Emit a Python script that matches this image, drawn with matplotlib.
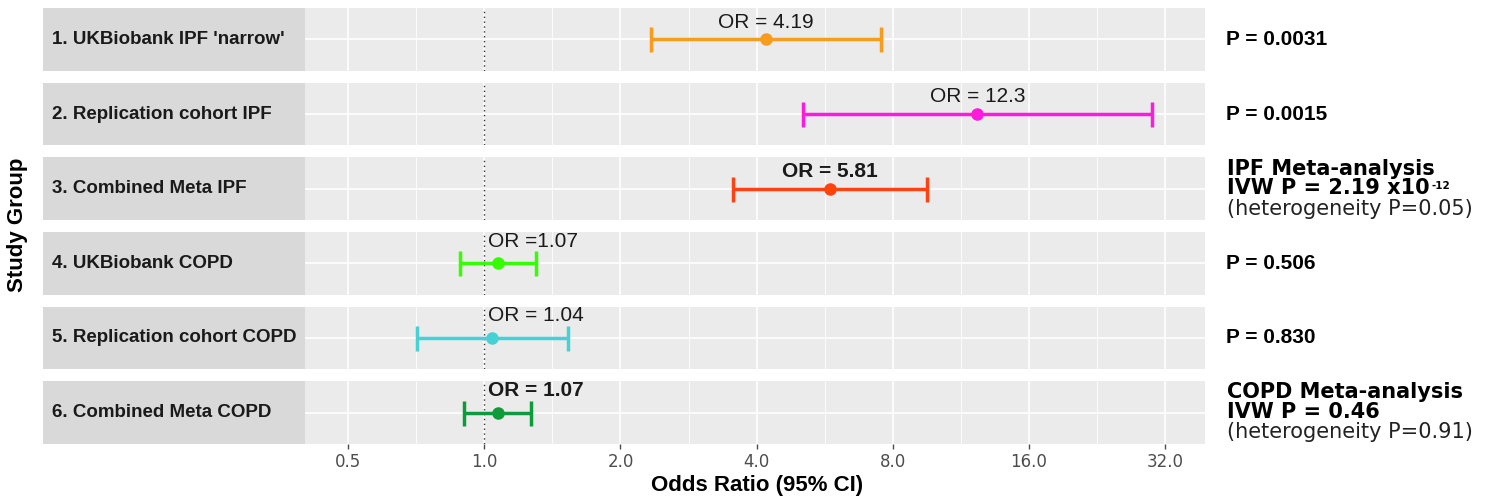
import numpy as np
import matplotlib
matplotlib.use("Agg")
import matplotlib.pyplot as plt
from matplotlib.ticker import FixedLocator, NullFormatter

# data
groups = ["1. UKBiobank IPF 'narrow'", "2. Replication cohort IPF", "3. Combined Meta IPF",
          "4. UKBiobank COPD", "5. Replication cohort COPD", "6. Combined Meta COPD"]
odds = [4.19, 12.3, 5.81, 1.07, 1.04, 1.07]
lower = [2.34, 5.07, 3.55, 0.885, 0.711, 0.903]
upper = [7.55, 30.0, 9.53, 1.30, 1.53, 1.27]
or_labels = ["OR = 4.19", "OR = 12.3", "OR = 5.81", "OR =1.07", "OR = 1.04", "OR = 1.07"]
p_labels = ["P = 0.0031", "P = 0.0015", None, "P = 0.506", "P = 0.830", None]
colors = ["#F99B1C", "#FF1AE0", "#FF4214", "#33FF00", "#45D2D2", "#0E9B3A"]
ticks = [0.5, 1, 2, 4, 8, 16, 32]
tick_labels = ["0.5", "1.0", "2.0", "4.0", "8.0", "16.0", "32.0"]

W, H = 1498, 500
fig = plt.figure(figsize=(W / 100, H / 100), dpi=100)
gs = fig.add_gridspec(6, 1, left=43 / W, right=1205 / W, top=1 - 8 / H, bottom=1 - 444 / H, hspace=0.19)

xmin, xmax, strip_end = 0.1058, 39.2, 0.4016
minor = [2 ** (k + 0.5) for k in range(-4, 6)]

axes = []
for i in range(6):
    ax = fig.add_subplot(gs[i])
    axes.append(ax)
    ax.set_facecolor("#EBEBEB")
    ax.set_xscale("log", base=2)
    ax.set_xlim(xmin, xmax)
    ax.set_ylim(-0.5, 0.5)
    ax.xaxis.set_major_locator(FixedLocator(ticks))
    ax.xaxis.set_minor_locator(FixedLocator(minor))
    ax.xaxis.set_minor_formatter(NullFormatter())
    ax.set_yticks([0])
    ax.set_axisbelow(True)
    ax.grid(True, which="major", color="white", lw=1.2)
    ax.grid(True, which="minor", axis="x", color="white", lw=0.6)
    for s in ax.spines.values():
        s.set_visible(False)
    ax.tick_params(axis="y", left=False, labelleft=False)
    ax.tick_params(axis="x", which="minor", bottom=False)
    if i < 5:
        ax.tick_params(axis="x", which="major", bottom=False, labelbottom=False)
    else:
        ax.set_xticklabels(tick_labels)
        ax.tick_params(axis="x", which="major", length=3.5, width=1, color="#4D4D4D",
                       labelcolor="#4D4D4D", labelsize=12, pad=3)

    # label strip on the left of each panel
    ax.axvspan(xmin, strip_end, color="#D9D9D9", zorder=1, lw=0)
    ax.text(xmin * 1.047, 0, groups[i], fontsize=13.5, fontweight="bold", color="#1A1A1A",
            va="center", ha="left", family="Liberation Sans", zorder=3)

    ax.axvline(1, color="#333333", ls=(0, (1, 2.5)), lw=1, zorder=2)

    ax.errorbar(odds[i], 0, xerr=[[odds[i] - lower[i]], [upper[i] - odds[i]]], fmt="o",
                color=colors[i], ms=8, elinewidth=2.5, capsize=9, capthick=2.5, zorder=4)

    weight = "bold" if i in (2, 5) else "normal"
    if i < 3:
        ax.annotate(or_labels[i], (odds[i], 0), xytext=(0, 12.5), textcoords="offset points",
                    ha="center", va="center", fontsize=15, fontweight=weight,
                    color="#1A1A1A", family="Liberation Sans", zorder=5)
    else:
        ax.annotate(or_labels[i], (1.02, 0), xytext=(0, 16), textcoords="offset points",
                    ha="left", va="center", fontsize=15, fontweight=weight,
                    color="#1A1A1A", family="Liberation Sans", zorder=5)

    if p_labels[i]:
        ax.annotate(p_labels[i], (1, 0.5), xycoords="axes fraction", xytext=(15, 0),
                    textcoords="offset points", ha="left", va="center", fontsize=15,
                    fontweight="bold", family="Liberation Sans", color="black",
                    annotation_clip=False)


# meta-analysis text blocks on the right
def meta_block(yc, title, line2, line3, sup=None):
    x = 1227 / W
    fig.text(x, 1 - (yc - 20) / H, title, fontsize=15, fontweight="bold",
             family="DejaVu Sans", va="center", ha="left")
    t = fig.text(x, 1 - (yc - 1) / H, line2, fontsize=15, fontweight="bold",
                 family="DejaVu Sans", va="center", ha="left")
    if sup:
        axes[0].annotate(sup, xy=(1, 1), xycoords=t, xytext=(1, -2), textcoords="offset points",
                         fontsize=7.5, fontweight="bold", family="DejaVu Sans",
                         va="top", ha="left", annotation_clip=False)
    fig.text(x, 1 - (yc + 20) / H, line3, fontsize=15, family="DejaVu Sans",
             va="center", ha="left", color="#222222")


meta_block(189, "IPF Meta-analysis", "IVW P = 2.19 x10", "(heterogeneity P=0.05)", sup="-12")
meta_block(412.5, "COPD Meta-analysis", "IVW P = 0.46", "(heterogeneity P=0.91)")

fig.text(757 / W, 1 - 485 / H, "Odds Ratio (95% CI)", fontsize=16, fontweight="bold",
         family="Liberation Sans", ha="center", va="center")
fig.text(18 / W, 1 - 225 / H, "Study Group", fontsize=16, fontweight="bold",
         family="Liberation Sans", ha="center", va="center", rotation=90)

fig.savefig("out.png", dpi=100, facecolor="white")
